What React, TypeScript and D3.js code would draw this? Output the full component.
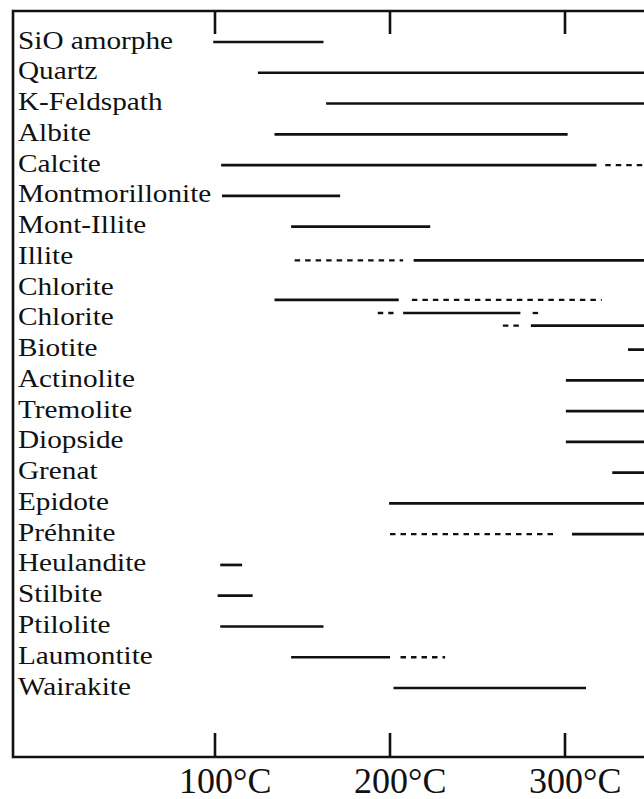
import React from "react";
import * as d3 from "d3";

const minerals = [
  "SiO amorphe", "Quartz", "K-Feldspath", "Albite", "Calcite", "Montmorillonite",
  "Mont-Illite", "Illite", "Chlorite", "Chlorite", "Biotite", "Actinolite",
  "Tremolite", "Diopside", "Grenat", "Epidote", "Préhnite", "Heulandite",
  "Stilbite", "Ptilolite", "Laumontite", "Wairakite",
];

// row: mineral index, lane: sub-row offset (fraction of row step), from/to in °C
type Seg = { row: number; lane: number; from: number; to: number; dashed: boolean };
const segments: Seg[] = [
  { row: 0, lane: 0, from: 99, to: 162, dashed: false },
  { row: 1, lane: 0, from: 124.5, to: 360, dashed: false },
  { row: 2, lane: 0, from: 163.5, to: 360, dashed: false },
  { row: 3, lane: 0, from: 134, to: 301.5, dashed: false },
  { row: 4, lane: 0, from: 103.5, to: 318, dashed: false },
  { row: 4, lane: 0, from: 323, to: 360, dashed: true },
  { row: 5, lane: 0, from: 104, to: 171.5, dashed: false },
  { row: 6, lane: 0, from: 143.5, to: 223, dashed: false },
  { row: 7, lane: 0.1, from: 145.5, to: 207.5, dashed: true },
  { row: 7, lane: 0.1, from: 213.5, to: 360, dashed: false },
  { row: 8, lane: 0.38, from: 134, to: 205, dashed: false },
  { row: 8, lane: 0.38, from: 212.5, to: 321, dashed: true },
  { row: 9, lane: -0.19, from: 193, to: 202, dashed: true },
  { row: 9, lane: -0.19, from: 207.5, to: 274.5, dashed: false },
  { row: 9, lane: -0.19, from: 281.5, to: 287, dashed: true },
  { row: 9, lane: 0.22, from: 264.5, to: 274.5, dashed: true },
  { row: 9, lane: 0.22, from: 280.5, to: 360, dashed: false },
  { row: 10, lane: 0, from: 336, to: 360, dashed: false },
  { row: 11, lane: 0, from: 300.5, to: 360, dashed: false },
  { row: 12, lane: 0, from: 300.5, to: 360, dashed: false },
  { row: 13, lane: 0, from: 300.5, to: 360, dashed: false },
  { row: 14, lane: 0, from: 327, to: 360, dashed: false },
  { row: 15, lane: 0, from: 199.5, to: 360, dashed: false },
  { row: 16, lane: 0, from: 200, to: 295.5, dashed: true },
  { row: 16, lane: 0, from: 304, to: 360, dashed: false },
  { row: 17, lane: 0, from: 103, to: 115.5, dashed: false },
  { row: 18, lane: 0, from: 101.5, to: 121.5, dashed: false },
  { row: 19, lane: 0, from: 103, to: 162, dashed: false },
  { row: 20, lane: 0, from: 143.5, to: 200, dashed: false },
  { row: 20, lane: 0, from: 206, to: 231.5, dashed: true },
  { row: 21, lane: 0, from: 202, to: 312, dashed: false },
];

const tickValues = [100, 200, 300];
const tickLabels = ["100°C", "200°C", "300°C"];

const W = 644;
const H = 799;
const frame = { left: 13, top: 11, bottom: 757 };

export default function App() {
  const x = d3.scaleLinear().domain([100, 300]).range([215, 565]);
  const y = d3.scalePoint<number>().domain(d3.range(minerals.length)).range([42, 688]);
  const step = y.step();
  const font = "'Liberation Serif', 'Times New Roman', serif";

  return (
    <svg
      width={W}
      height={H}
      style={{ position: "absolute", left: 0, top: 0, background: "#fff" }}
    >
      <rect x={0} y={0} width={W} height={H} fill="#fff" />
      {/* frame */}
      <path
        d={`M${W + 20},${frame.top}H${frame.left}V${frame.bottom}H${W + 20}`}
        fill="none"
        stroke="#111"
        strokeWidth={2.6}
      />
      {/* ticks */}
      {tickValues.map((t) => (
        <g key={t}>
          <line x1={x(t)} x2={x(t)} y1={frame.top} y2={frame.top + 23} stroke="#111" strokeWidth={2.6} />
          <line x1={x(t)} x2={x(t)} y1={frame.bottom - 24} y2={frame.bottom} stroke="#111" strokeWidth={2.6} />
        </g>
      ))}
      {tickLabels.map((lab, i) => (
        <text
          key={lab}
          x={x(tickValues[i]) - 36}
          y={793}
          fontFamily={font}
          fontSize={36}
          fill="#111"
        >
          {lab}
        </text>
      ))}
      {/* labels */}
      {minerals.map((m, i) => (
        <text
          key={i}
          transform={`translate(18,${(y(i) as number) + 6.5}) scale(1.17,1)`}
          fontFamily={font}
          fontSize={25}
          fill="#111"
        >
          {m}
        </text>
      ))}
      {/* segments */}
      {segments.map((s, i) => {
        const yy = (y(s.row) as number) + s.lane * step;
        return (
          <line
            key={i}
            x1={x(s.from)}
            x2={x(s.to)}
            y1={yy}
            y2={yy}
            stroke="#111"
            strokeWidth={s.dashed ? 2.3 : 2.7}
            strokeDasharray={s.dashed ? "5.5 5" : undefined}
          />
        );
      })}
    </svg>
  );
}
